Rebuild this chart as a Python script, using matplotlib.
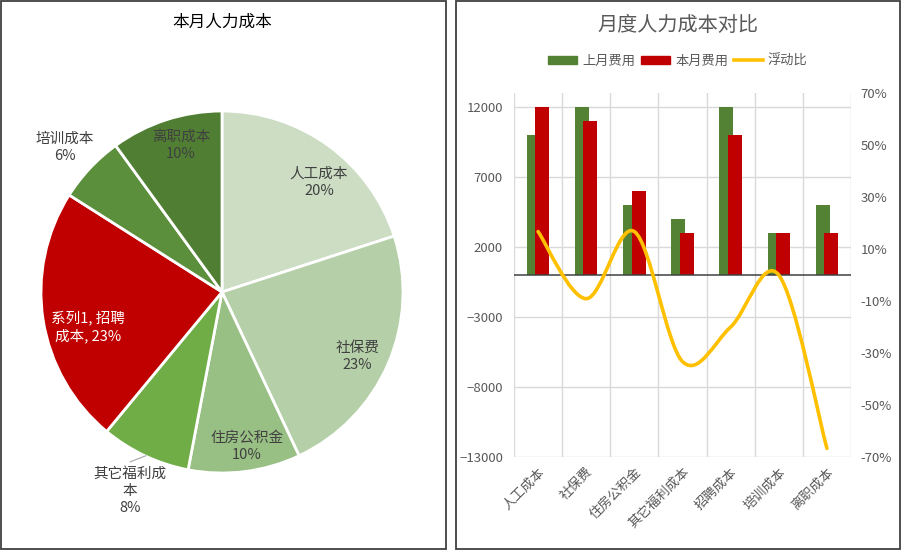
import matplotlib.pyplot as plt
import numpy as np
from matplotlib.patches import Rectangle, PathPatch, Patch
from matplotlib.lines import Line2D
from matplotlib.path import Path

plt.rcParams['font.family'] = ['Noto Sans CJK SC', 'DejaVu Sans']

# data for the pie (this month's cost structure, percent)
pie_names = ['人工成本', '社保费', '住房公积金', '其它福利成本', '招聘成本', '培训成本', '离职成本']
pie_pct = [20, 23, 10, 8, 23, 6, 10]
pie_labels = ['人工成本\n20%', '社保费\n23%', '住房公积金\n10%', '其它福利成\n本\n8%',
              '系列1, 招聘\n成本, 23%', '培训成本\n6%', '离职成本\n10%']

# data for the comparison chart
categories = ['人工成本', '社保费', '住房公积金', '其它福利成本', '招聘成本', '培训成本', '离职成本']
last_month = [10000, 12000, 5000, 4000, 12000, 3000, 5000]
this_month = [12000, 11000, 6000, 3000, 10000, 3000, 3000]
float_ratio = [0.167, -0.091, 0.167, -0.333, -0.200, 0.0, -0.667]

W, H = 902, 550
fig = plt.figure(figsize=(W / 100, H / 100), dpi=100)


def box(x0, y0, x1, y1):
    # pixel box (top-left origin) -> figure fraction rect
    return [x0 / W, 1 - y1 / H, (x1 - x0) / W, (y1 - y0) / H]


# panel borders
for x0, x1 in [(0.8, 446), (455.5, 900)]:
    r = box(x0, 1, x1, 548.5)
    fig.patches.append(Rectangle((r[0], r[1]), r[2], r[3], transform=fig.transFigure,
                                 fill=False, edgecolor='#404040', linewidth=1.3))

# ---------------- left: pie ----------------
pie_colors = ['#CCDDC4', '#B5CFA8', '#98BF84', '#70AD47', '#C00000', '#5B8F3B', '#507E32']
# label placement (radius factor, angle shift in degrees) like excel puts them
label_dist = [0.81, 0.83, 0.865, 1.21, 0.765, 1.18, 0.84]
label_shift = [-5.4, -2.1, 1.9, 0.4, 5.6, 0.5, -2.4]

ax1 = fig.add_axes(box(222 - 181, 292 - 181, 222 + 181, 292 + 181))
wedges, _ = ax1.pie(pie_pct, colors=pie_colors, startangle=90, counterclock=False,
                    radius=1, wedgeprops=dict(edgecolor='white', linewidth=2))
ax1.set_xlim(-1, 1)
ax1.set_ylim(-1, 1)
ax1.set_aspect('equal')
ax1.axis('off')

for i, w in enumerate(wedges):
    mid = np.deg2rad((w.theta1 + w.theta2) / 2)
    ang = mid + np.deg2rad(label_shift[i])
    d = label_dist[i]
    lx, ly = d * np.cos(ang), d * np.sin(ang)
    col = 'white' if pie_names[i] == '招聘成本' else '#404040'
    ax1.text(lx, ly, pie_labels[i], ha='center', va='center', fontsize=10.5,
             color=col, linespacing=1.3, clip_on=False)
    if pie_names[i] == '其它福利成本':
        # leader line for the outside label
        ax1.plot([np.cos(mid) + 0.005, lx], [np.sin(mid), ly + 0.16],
                 color='#A6A6A6', linewidth=0.8, clip_on=False)

fig.text(222 / W, 1 - 22 / H, '本月人力成本', ha='center', va='center', fontsize=12, color='black')

# ---------------- right: bars + line ----------------
ax2 = fig.add_axes(box(514, 93, 851, 457))
x = np.arange(len(categories))
bw = 0.29
off = 0.087
ax2.bar(x - off, last_month, width=bw, color='#548235', zorder=2)
ax2.bar(x + off, this_month, width=bw, color='#C00000', zorder=3)
ax2.set_xlim(-0.5, len(categories) - 0.5)
ax2.set_ylim(-13000, 13000)
ax2.set_yticks(range(12000, -13001, -5000))
for yv in range(12000, -13001, -5000):
    ax2.axhline(yv, color='#D9D9D9', linewidth=1, zorder=0)
for xv in np.arange(-0.5, len(categories), 1):
    ax2.axvline(xv, color='#D9D9D9', linewidth=1, zorder=0)
ax2.axhline(0, color='#404040', linewidth=1.1, zorder=4)
ax2.set_xticks(x)
ax2.set_xticklabels(categories, rotation=45, ha='right', va='top', rotation_mode='anchor')
for s in ax2.spines.values():
    s.set_visible(False)
ax2.tick_params(axis='both', length=0, labelsize=9.5, colors='#595959')
ax2.tick_params(axis='y', pad=8)
ax2.tick_params(axis='x', pad=6)

ax3 = ax2.twinx()
ax3.set_ylim(-0.7, 0.7)
ax3.set_yticks(np.arange(0.7, -0.71, -0.2))
ax3.set_yticklabels([f'{v * 100:.0f}%' for v in np.arange(0.7, -0.71, -0.2)])
ax3.tick_params(axis='y', length=0, labelsize=9.5, colors='#595959', pad=7)
for s in ax3.spines.values():
    s.set_visible(False)

# smoothed line (Catmull-Rom style bezier through the data points)
pts = np.column_stack([x, float_ratio]).astype(float)
verts = [tuple(pts[0])]
codes = [Path.MOVETO]
n = len(pts)
for i in range(n - 1):
    p0 = pts[max(i - 1, 0)]
    p1 = pts[i]
    p2 = pts[i + 1]
    p3 = pts[min(i + 2, n - 1)]
    c1 = p1 + (p2 - p0) / 6
    c2 = p2 - (p3 - p1) / 6
    verts += [tuple(c1), tuple(c2), tuple(p2)]
    codes += [Path.CURVE4] * 3
ax3.add_patch(PathPatch(Path(verts, codes), fill=False, edgecolor='#FFC000',
                        linewidth=2.6, capstyle='round', zorder=5))

fig.text(678 / W, 1 - 25 / H, '月度人力成本对比', ha='center', va='center',
         fontsize=14.5, color='#595959')

handles = [Patch(color='#548235'), Patch(color='#C00000'),
           Line2D([0], [0], color='#FFC000', linewidth=2.6)]
fig.legend(handles, ['上月费用', '本月费用', '浮动比'], loc='center',
           bbox_to_anchor=(678 / W, 1 - 61 / H), ncol=3, frameon=False,
           fontsize=9.5, labelcolor='#595959', handlelength=2.2, handleheight=0.6,
           handletextpad=0.4, columnspacing=0.4)

fig.savefig('out.png', dpi=100)
